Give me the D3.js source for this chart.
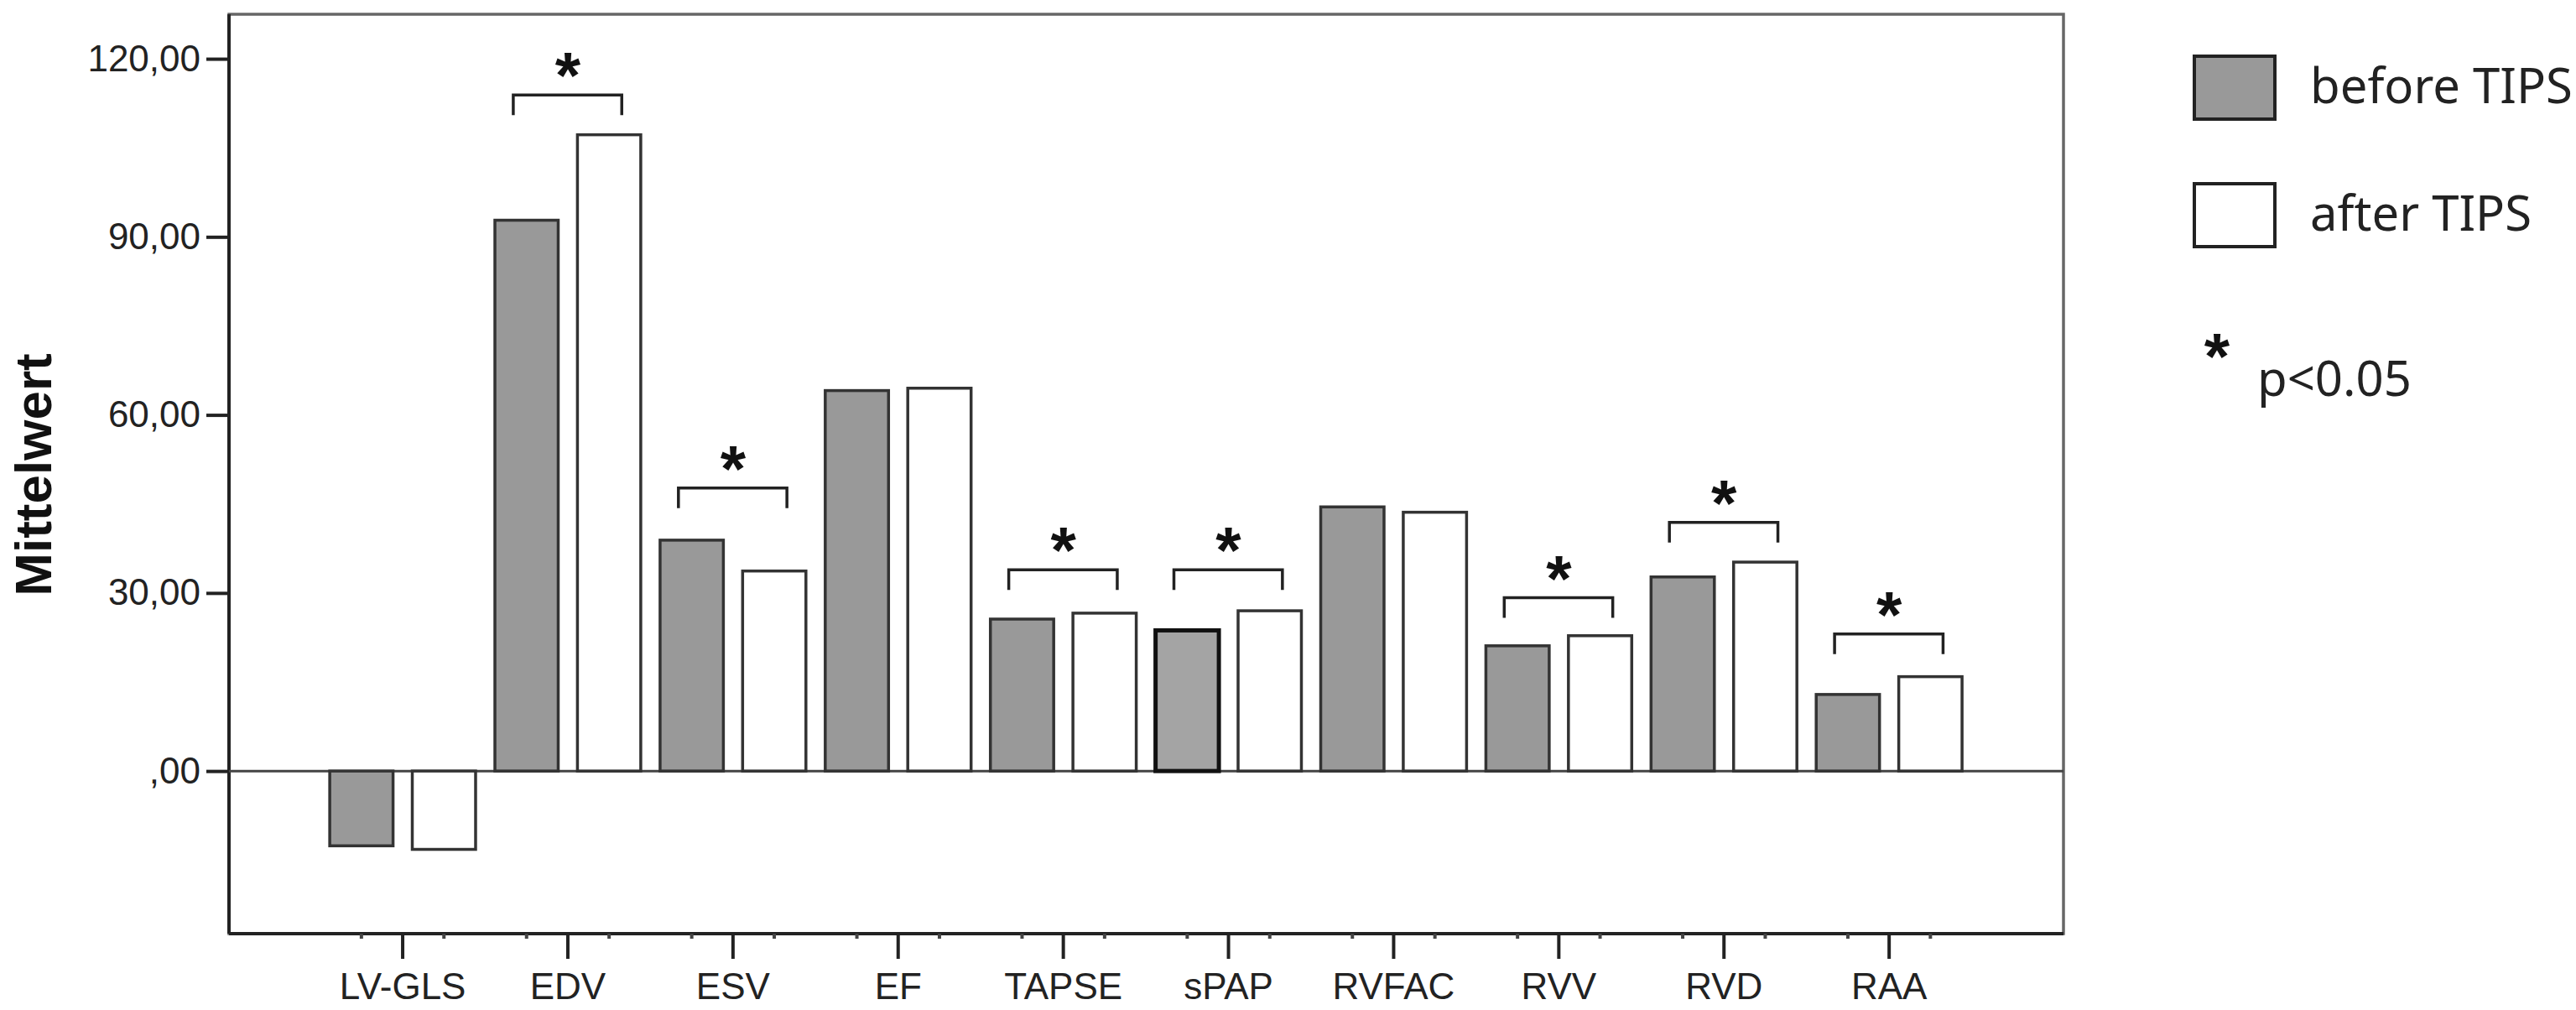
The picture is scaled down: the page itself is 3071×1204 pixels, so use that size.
<!DOCTYPE html>
<html>
<head>
<meta charset="utf-8">
<script src="https://cdn.jsdelivr.net/npm/d3@7"></script>
<style>
  body { margin: 0; background: #fff; }
  .tick text { font-family: "Liberation Sans", Arial, sans-serif; fill: #222; }
</style>
</head>
<body>
<div id="chart"></div>
<script>
/* Data */

const categories = ["LV-GLS", "EDV", "ESV", "EF", "TAPSE", "sPAP", "RVFAC", "RVV", "RVD", "RAA"]
const seriesNames = ["before TIPS", "after TIPS"]
const beforeTIPS = [-12.6, 92.8, 38.9, 64.1, 25.6, 23.7, 44.5, 21.1, 32.7, 12.9]
const afterTIPS = [-13.2, 107.2, 33.7, 64.5, 26.6, 27.0, 43.6, 22.8, 35.2, 15.9]
// height of the significance bracket (in Mittelwert units), null = not significant
const bracketLevel = [null, 113.9, 47.7, null, 33.9, 33.9, null, 29.2, 41.9, 23.1]
const yTicks = [0, 30, 60, 90, 120]

/* Chart area */

const WIDTH = 3071
const HEIGHT = 1204
const PLOT = { LEFT: 273, RIGHT: 2460, TOP: 17, BOTTOM: 1113 }

const svg = d3.select("#chart").append("svg")
  .attr("width", WIDTH)
  .attr("height", HEIGHT)

svg.append("rect")
  .attr("width", WIDTH)
  .attr("height", HEIGHT)
  .attr("fill", "#fff")

// scales
const y = d3.scaleLinear()
  .domain([-27.4, 127.5])
  .range([PLOT.BOTTOM, PLOT.TOP])

const x = d3.scaleBand()
  .domain(categories)
  .range([381.6, 2350.6])
  .paddingInner(0)

const x1 = d3.scaleBand()
  .domain(seriesNames)
  .range([0, x.bandwidth()])
  .paddingInner(0.233)
  .paddingOuter(0.117)

// frame
svg.append("rect")
  .attr("x", PLOT.LEFT)
  .attr("y", PLOT.TOP)
  .attr("width", PLOT.RIGHT - PLOT.LEFT)
  .attr("height", PLOT.BOTTOM - PLOT.TOP)
  .attr("fill", "none")
  .attr("stroke", "#666")
  .attr("stroke-width", 3.5)

// y axis
const yAxis = svg.append("g")
  .attr("transform", `translate(${PLOT.LEFT}, 0)`)
  .call(d3.axisLeft(y)
    .tickValues(yTicks)
    .tickSize(27)
    .tickPadding(7)
    .tickFormat(d => d === 0 ? ",00" : d.toFixed(2).replace(".", ",")))
yAxis.select(".domain")
  .attr("d", `M0,${PLOT.TOP}V${PLOT.BOTTOM}`)
  .attr("stroke", "#222")
  .attr("stroke-width", 4)
yAxis.selectAll(".tick line").attr("stroke", "#222").attr("stroke-width", 4)
yAxis.selectAll(".tick text").style("font-size", "44px")

// x axis
const xAxis = svg.append("g")
  .attr("transform", `translate(0, ${PLOT.BOTTOM})`)
  .call(d3.axisBottom(x)
    .tickSize(30)
    .tickPadding(17))
xAxis.select(".domain")
  .attr("d", `M${PLOT.LEFT},0H${PLOT.RIGHT}`)
  .attr("stroke", "#222")
  .attr("stroke-width", 4)
xAxis.selectAll(".tick line").attr("stroke", "#222").attr("stroke-width", 4)
xAxis.selectAll(".tick text").style("font-size", "44px")

// small marks under every bar
categories.forEach(c => {
  seriesNames.forEach(s => {
    xAxis.append("line")
      .attr("x1", x(c) + x1(s) + x1.bandwidth() / 2)
      .attr("x2", x(c) + x1(s) + x1.bandwidth() / 2)
      .attr("y1", 0)
      .attr("y2", 6)
      .attr("stroke", "#444")
      .attr("stroke-width", 4)
  })
})

// zero line
svg.append("line")
  .attr("x1", PLOT.LEFT)
  .attr("x2", PLOT.RIGHT)
  .attr("y1", y(0))
  .attr("y2", y(0))
  .attr("stroke", "#444")
  .attr("stroke-width", 3)

// y-axis title
svg.append("text")
  .attr("transform", `translate(61, 566) rotate(-90)`)
  .attr("text-anchor", "middle")
  .style("font", "bold 62px 'Liberation Sans', Arial, sans-serif")
  .attr("fill", "#111")
  .text("Mittelwert")

/* Bars */

const rows = categories.map((c, i) => ({ cat: c, values: [beforeTIPS[i], afterTIPS[i]], level: bracketLevel[i] }))

const groups = svg.selectAll(".group")
  .data(rows)
  .enter().append("g")
  .attr("class", "group")
  .attr("transform", d => `translate(${x(d.cat)}, 0)`)

groups.selectAll("rect")
  .data(d => d.values.map((v, j) => ({ cat: d.cat, series: seriesNames[j], value: v })))
  .enter().append("rect")
  .attr("x", d => x1(d.series))
  .attr("y", d => y(Math.max(0, d.value)))
  .attr("width", x1.bandwidth())
  .attr("height", d => Math.abs(y(d.value) - y(0)))
  .attr("fill", d => d.series === "before TIPS" ? (d.cat === "sPAP" ? "#a4a4a4" : "#999") : "#fff")
  .attr("stroke", d => d.cat === "sPAP" && d.series === "before TIPS" ? "#111" : "#333")
  .attr("stroke-width", d => d.cat === "sPAP" && d.series === "before TIPS" ? 5 : 3.5)

/* Significance brackets */

const sig = groups.filter(d => d.level !== null)
const bx0 = x1("before TIPS") + x1.bandwidth() * 0.29
const bx1 = x1("after TIPS") + x1.bandwidth() * 0.7

sig.append("path")
  .attr("d", d => `M${bx0},${y(d.level) + 24}V${y(d.level)}H${bx1}V${y(d.level) + 24}`)
  .attr("fill", "none")
  .attr("stroke", "#222")
  .attr("stroke-width", 3.5)

sig.append("text")
  .attr("x", x.bandwidth() / 2)
  .attr("y", d => y(d.level) + 4)
  .attr("text-anchor", "middle")
  .style("font", "bold 78px 'Liberation Sans', Arial, sans-serif")
  .attr("fill", "#111")
  .text("*")

/* Legend */

const legend = svg.append("g")
  .attr("transform", "translate(2616, 0)")

const legendY = [67, 219]
seriesNames.forEach((s, j) => {
  legend.append("rect")
    .attr("x", 0)
    .attr("y", legendY[j])
    .attr("width", 96)
    .attr("height", 75)
    .attr("fill", j === 0 ? "#999" : "#fff")
    .attr("stroke", "#222")
    .attr("stroke-width", 4)
  legend.append("text")
    .attr("x", 138)
    .attr("y", legendY[j] + 56)
    .style("font", "58px 'Noto Sans', 'Open Sans', sans-serif")
    .attr("fill", "#222")
    .text(s)
})

legend.append("text")
  .attr("x", 27)
  .attr("y", 452)
  .attr("text-anchor", "middle")
  .style("font", "bold 78px 'Liberation Sans', Arial, sans-serif")
  .attr("fill", "#111")
  .text("*")

legend.append("text")
  .attr("x", 75)
  .attr("y", 472)
  .style("font", "58px 'Noto Sans', 'Open Sans', sans-serif")
  .attr("fill", "#222")
  .text("p<0.05")
</script>
</body>
</html>
